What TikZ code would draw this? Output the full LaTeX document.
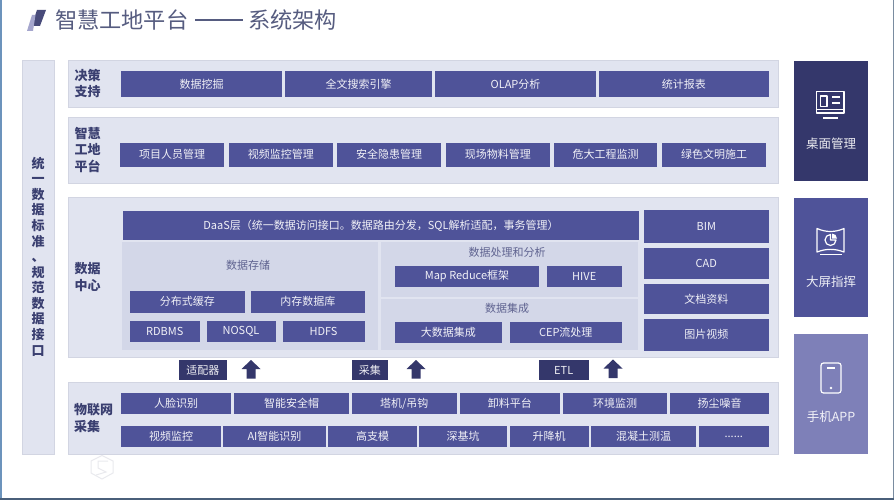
\documentclass[tikz,border=0pt]{standalone}
\usepackage{fontspec}
\setmainfont{Noto Sans CJK SC}
\definecolor{bxc}{HTML}{4F5399}
\definecolor{dk}{HTML}{34376B}
\definecolor{lt}{HTML}{7E80B8}
\definecolor{pan}{HTML}{E1E4F0}
\definecolor{panb}{HTML}{D2D5E2}
\definecolor{inn}{HTML}{D3D7E8}
\definecolor{lab}{HTML}{3A3F70}
\definecolor{tit}{HTML}{565C80}
\definecolor{sub}{HTML}{5F6390}
\definecolor{wm}{HTML}{E9EAEE}
\definecolor{frl}{HTML}{6C93BC}
\definecolor{frb}{HTML}{4A5F7A}
\definecolor{frr}{HTML}{7A8CA0}
\newcommand{\fsz}[2]{\fontsize{#1}{#2}\selectfont}
\tikzset{x=1pt,y=-1pt,
 base/.style={inner sep=0pt,outer sep=0pt,anchor=center,align=center},
 bluebox/.style={base,fill=bxc,text=white!92!bxc,font=\fsz{11}{13}},
 darkbox/.style={base,fill=dk,text=white!92!dk,font=\fsz{11}{13}},
 tile/.style={base,font=\fsz{12}{14}},
 panelbox/.style={base,fill=pan,draw=panb,line width=1pt},
 innerbox/.style={base,fill=inn},
 rowlabel/.style={base,text=lab,font=\fsz{13}{16.5}\bfseries,align=left},
 sublabel/.style={base,text=sub,font=\fsz{11}{13}},
 upblock/.style={fill=dk,draw=none},
 icon/.style={draw=white,line width=1.2pt,fill=none,line join=round}
}
\newcommand{\bxn}[7][bluebox]{\node[#1,minimum width=#4pt-#3pt,minimum height=#6pt-#5pt] (#2) at ({(#3+#4)/2},{(#5+#6)/2}) {#7};}
\newcommand{\upar}[2]{\fill[upblock] (#1,#2) -- ++(9.5,9) -- ++(-5,0) -- ++(0,9.5) -- ++(-9,0) -- ++(0,-9.5) -- ++(-5,0) -- cycle;}
\begin{document}
\begin{tikzpicture}
\useasboundingbox (0,0) rectangle (894,500);
\fill[white] (0,0) rectangle (894,500);
\fill[frl] (0,0) rectangle (2.2,500);
\fill[frr] (892.5,0) rectangle (894,500);
\fill[frb] (0,497.5) rectangle (894,500);
% title
\fill[dk!90] (37,10) -- (46,10) -- (40,26) -- (31.5,26) -- cycle;
\fill[lt!70] (32,15) -- (35.5,15) -- (33,31) -- (27,31) -- cycle;
\node[base,anchor=west,text=tit,font=\fsz{22.2}{26}] (title) at (55,20) {智慧工地平台};
\fill[tit] (195,19.5) rectangle (243,20.6);
\node[base,anchor=west,text=tit,font=\fsz{22.2}{26}] (title2) at (248,20) {系统架构};
% left column
\bxn[panelbox]{side}{22.5}{54.5}{60.5}{454}{}
\node[rowlabel,align=center,font=\fsz{13}{15.58}\bfseries] (sidetext) at (38,256.5) {统\\一\\数\\据\\标\\准\\、\\规\\范\\数\\据\\接\\口};
% row 1
\bxn[panelbox]{rowA}{68.5}{778.5}{60.5}{107.5}{}
\node[rowlabel] (rowAl) at (87.5,83.5) {决策\\支持};
\bxn{a1}{121}{282}{71}{97}{数据挖掘}
\bxn{a2}{285}{432}{71}{97}{全文搜索引擎}
\bxn{a3}{435}{596}{71}{97}{OLAP分析}
\bxn{a4}{598.5}{769}{71}{97}{统计报表}
% row 2
\bxn[panelbox]{rowB}{68.5}{778.5}{117.5}{183}{}
\node[rowlabel] (rowBl) at (87.5,150) {智慧\\工地\\平台};
\bxn{b1}{120}{224}{143}{166.5}{项目人员管理}
\bxn{b2}{229}{332.5}{143}{166.5}{视频监控管理}
\bxn{b3}{337}{441}{143}{166.5}{安全隐患管理}
\bxn{b4}{446}{549.5}{143}{166.5}{现场物料管理}
\bxn{b5}{554}{657}{143}{166.5}{危大工程监测}
\bxn{b6}{662}{766}{143}{166.5}{绿色文明施工}
% data centre
\bxn[panelbox]{rowC}{68.5}{778.5}{197.5}{357.5}{}
\node[rowlabel] (rowCl) at (87.5,277) {数据\\中心};
\bxn{daas}{123}{639}{211}{240}{DaaS层（统一数据访问接口。数据路由分发，SQL解析适配，事务管理）}
\bxn[innerbox]{store}{122}{378}{241.5}{350}{}
\bxn[innerbox]{proc}{380.5}{638}{241.5}{296.5}{}
\bxn[innerbox]{integ}{380.5}{638}{298.5}{350}{}
\node[sublabel] (storel) at (248,265.5) {数据存储};
\bxn{s1}{130}{244.5}{290.5}{312.5}{分布式缓存}
\bxn{s2}{251}{364.5}{290.5}{312.5}{内存数据库}
\bxn{s3}{130}{199.5}{320.5}{341.5}{RDBMS}
\bxn{s4}{206.5}{275.5}{320.5}{341.5}{NOSQL}
\bxn{s5}{282.5}{364.5}{320.5}{341.5}{HDFS}
\node[sublabel] (procl) at (507,252.5) {数据处理和分析};
\bxn{p1}{395}{539}{265.5}{286.5}{Map Reduce框架}
\bxn{p2}{547}{621.5}{265.5}{286.5}{HIVE}
\node[sublabel] (integl) at (507,308.5) {数据集成};
\bxn{i1}{395}{501.5}{322}{343}{大数据集成}
\bxn{i2}{510}{621.5}{322}{343}{CEP流处理}
\bxn{c1}{643.5}{769}{209.5}{243}{BIM}
\bxn{c2}{643.5}{769}{248}{279}{CAD}
\bxn{c3}{643.5}{769}{284}{314}{文档资料}
\bxn{c4}{643.5}{769}{319}{350.5}{图片视频}
% adapters
\bxn[darkbox]{d1}{179}{226.5}{360}{380}{适配器}
\upar{251}{360}
\bxn[darkbox]{d2}{351.5}{388}{360}{380}{采集}
\upar{416}{360}
\bxn[darkbox]{d3}{539}{588.5}{360}{380}{ETL}
\upar{613}{359.5}
% IoT
\bxn[panelbox]{rowD}{68.5}{778.5}{382.5}{454}{}
\node[rowlabel] (rowDl) at (93.5,418) {物联网\\采集};
\bxn{e1}{121}{231}{393}{414}{人脸识别}
\bxn{e2}{234}{349}{393}{414}{智能安全帽}
\bxn{e3}{352}{456.5}{393}{414}{塔机/吊钩}
\bxn{e4}{459.5}{560}{393}{414}{卸料平台}
\bxn{e5}{563}{667}{393}{414}{环境监测}
\bxn{e6}{670}{769}{393}{414}{扬尘噪音}
\bxn{f1}{121}{221}{426}{447}{视频监控}
\bxn{f2}{223}{326}{426}{447}{AI智能识别}
\bxn{f3}{328}{417}{426}{447}{高支模}
\bxn{f4}{419}{507}{426}{447}{深基坑}
\bxn{f5}{509.5}{588.5}{426}{447}{升降机}
\bxn{f6}{591}{696}{426}{447}{混凝土测温}
\bxn{f7}{699}{768.5}{426}{447}{......}
% right tiles
\fill[dk] (794,61) rectangle (868,181);
\fill[bxc] (794,197.5) rectangle (868,317);
\fill[lt] (794,334) rectangle (868,453.5);
\node[tile,text=white!90!dk,font=\fsz{12.5}{14}] (t1) at (831,143.5) {桌面管理};
\node[tile,text=white!90!bxc,font=\fsz{12.5}{14}] (t2) at (831,281.5) {大屏指挥};
\node[tile,text=white!90!lt,font=\fsz{12.5}{14}] (t3) at (831,416.5) {手机APP};
% desktop icon
\draw[icon] (816.5,91.5) rectangle (844,113);
\draw[icon] (820.5,96) rectangle (827,106.5);
\draw[icon,line width=2pt] (832,97) -- (840,97) (832,103) -- (840,103);
\draw[icon] (816.5,109.5) -- (844,109.5);
\draw[icon] (823,118) -- (838,118);
% screen icon
\draw[icon] (817,228.5) .. controls (826,232.5) and (835,232.5) .. (844,228.5) -- (844,252) .. controls (835,248.5) and (826,248.5) .. (817,252) -- cycle;
\draw[icon] (830.5,234.5) arc[start angle=90,end angle=360,radius=5.5pt] -- (830.5,240) -- cycle;
\fill[white] (832,238.5) -- (832,233.5) arc[start angle=90,end angle=0,radius=5pt] -- cycle;
\draw[icon] (820,254.5) -- (842,254.5);
% phone icon
\draw[icon,rounded corners=2.5pt] (821,363) rectangle (841,393);
\draw[icon] (827,368) -- (835,368);
\fill[white] (831,388) circle (1.3);
% watermark logo
\draw[wm,line width=1pt] (102,455.5) -- (113,461) -- (113,473) -- (102,479) -- (91,473) -- (91,461) -- cycle;
\draw[wm,line width=1pt] (108,461) -- (98,461) -- (98,468) -- (106,472) -- (96,475);
\end{tikzpicture}
\end{document}
